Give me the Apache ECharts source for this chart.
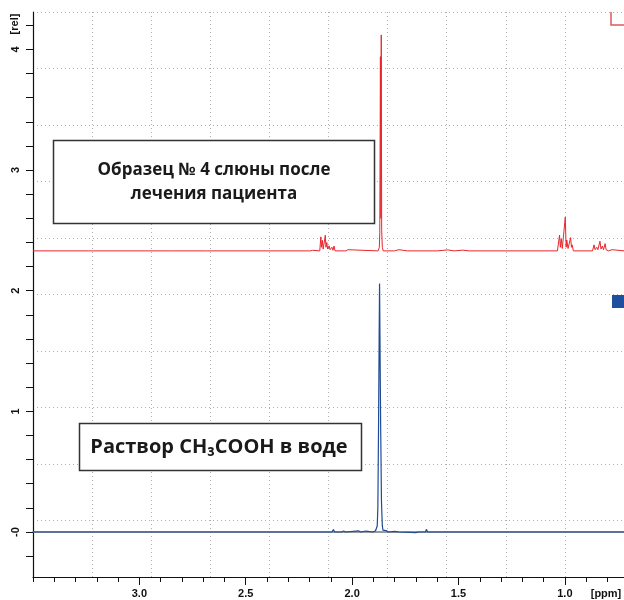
<!DOCTYPE html>
<html><head><meta charset="utf-8">
<script src="https://cdn.jsdelivr.net/npm/echarts@6/dist/echarts.min.js"></script>
<style>html,body{margin:0;padding:0;background:#fff}#c{width:624px;height:600px}</style>
</head><body><div id="c"></div>
<script>
// ppm axis labels and ticks
const xLabelValues = [3.0, 2.5, 2.0, 1.5, 1.0];
const xTickValues = [3.5,3.4,3.3,3.2,3.1,3.0,2.9,2.8,2.7,2.6,2.5,2.4,2.3,2.2,2.1,2.0,1.9,1.8,1.7,1.6,1.5,1.4,1.3,1.2,1.1,1.0,0.9,0.8];
// intensity axis labels and ticks
const yLabelValues = [0, 1, 2, 3, 4];
const yTickValues = [-0.2,0,0.2,0.4,0.6,0.8,1,1.2,1.4,1.6,1.8,2,2.2,2.4,2.6,2.8,3,3.2,3.4,3.6,3.8,4,4.2];

// Saliva sample spectrum (offset), [ppm, rel]
const salivaSpectrum = [
  [3.50,2.33],[3.24,2.33],[3.232,2.345],[3.224,2.33],
  [2.86,2.33],[2.852,2.338],[2.844,2.33],
  [2.70,2.33],[2.692,2.337],[2.684,2.33],
  [2.196,2.33],[2.190,2.345],[2.186,2.335],[2.183,2.348],[2.178,2.33],
  [2.152,2.33],[2.147,2.446],[2.144,2.36],[2.140,2.418],[2.136,2.345],[2.130,2.36],[2.126,2.46],[2.123,2.36],[2.119,2.40],[2.115,2.345],[2.111,2.35],[2.108,2.372],[2.104,2.34],[2.095,2.36],[2.090,2.335],[2.085,2.37],[2.080,2.33],
  [2.03,2.33],[2.019,2.34],[2.012,2.33],[1.995,2.338],[1.99,2.33],
  [1.878,2.33],[1.872,2.36],[1.870,2.48],[1.867,3.94],[1.865,2.6],[1.863,4.12],[1.861,2.5],[1.858,2.36],[1.854,2.33],
  [1.80,2.33],[1.78,2.34],[1.76,2.335],[1.74,2.33],
  [1.60,2.33],[1.55,2.338],[1.52,2.33],[1.48,2.336],[1.45,2.33],
  [1.035,2.33],[1.025,2.46],[1.021,2.36],[1.017,2.43],[1.012,2.35],[1.005,2.36],[0.998,2.61],[0.994,2.36],[0.991,2.42],[0.985,2.35],[0.978,2.36],[0.973,2.44],[0.969,2.36],[0.966,2.38],[0.960,2.33],
  [0.87,2.33],[0.863,2.38],[0.858,2.34],[0.850,2.36],[0.845,2.34],[0.835,2.41],[0.830,2.345],[0.824,2.37],[0.818,2.34],[0.811,2.39],[0.806,2.34],[0.800,2.35],[0.795,2.33],[0.778,2.34],[0.772,2.33],
  [0.72,2.33]
];

// Acetic acid in water spectrum, [ppm, rel]
const acidSpectrum = [
  [3.50,0],[2.095,0],[2.088,0.02],[2.082,0],
  [2.05,0],[2.04,0.008],[2.03,0],
  [1.97,0.01],[1.96,0],[1.935,0.008],[1.93,0],
  [1.902,0],[1.89,0.01],[1.882,0.05],[1.879,0.2],[1.876,0.82],[1.873,1.6],[1.871,2.06],[1.869,1.6],[1.866,0.91],[1.862,0.25],[1.858,0.05],[1.855,0.016],[1.85,0.01],[1.84,0.012],[1.83,0],
  [1.80,0.005],[1.78,0],
  [1.70,-0.005],[1.69,0],
  [1.655,0],[1.651,0.022],[1.645,0],
  [0.72,0]
];

const boxText1 = 'Образец № 4 слюны после\nлечения пациента';
const boxText2 = 'Раствор CH₃COOH в воде';

const chart = echarts.init(document.getElementById('c'), null, {renderer:'canvas'});
const labelFont = {fontFamily:'Liberation Sans', fontWeight:'bold', fontSize:11, color:'#111'};
const dotted = {show:true, lineStyle:{color:'#b0b0b0', type:[1,3], width:1}};

chart.setOption({
  animation:false,
  backgroundColor:'#fff',
  grid:{left:33, right:0, top:12, bottom:23},
  xAxis:[
    {type:'value', min:0.722, max:3.5, inverse:true, position:'bottom',
     axisLine:{show:true, onZero:false, lineStyle:{color:'#111', width:1.2}},
     axisTick:{show:true, length:8, customValues:xLabelValues, lineStyle:{color:'#111'}},
     axisLabel:Object.assign({customValues:xLabelValues, margin:11, formatter:v=>v.toFixed(1)}, labelFont),
     splitLine:{show:false}},
    {type:'value', min:0, max:10, interval:1, position:'top',
     axisLine:{show:true, lineStyle:{color:'#7a7a7a', width:1.5}},
     axisTick:{show:false}, axisLabel:{show:false}, splitLine:dotted},
    {type:'value', min:0.722, max:3.5, inverse:true, position:'bottom',
     axisLine:{show:false, onZero:false},
     axisTick:{show:true, length:5, customValues:xTickValues, lineStyle:{color:'#111'}},
     axisLabel:{show:false}, splitLine:{show:false}}
  ],
  yAxis:[
    {type:'value', min:-0.373, max:4.31, position:'left',
     axisLine:{show:true, onZero:false, lineStyle:{color:'#111', width:1.2}},
     axisTick:{show:true, length:7, customValues:yTickValues, lineStyle:{color:'#111'}},
     axisLabel:Object.assign({customValues:yLabelValues, rotate:90, margin:12, formatter:v=>(v===0?'-0':String(v))}, labelFont),
     splitLine:{show:false}},
    {type:'value', min:0, max:10, interval:1, position:'right',
     axisLine:{show:false}, axisTick:{show:false}, axisLabel:{show:false}, splitLine:dotted}
  ],
  series:[
    {type:'line', name:'saliva', xAxisIndex:0, yAxisIndex:0, data:salivaSpectrum, showSymbol:false,
     lineStyle:{color:'#e8262d', width:1}, z:3, silent:true},
    {type:'line', name:'acid', xAxisIndex:0, yAxisIndex:0, data:acidSpectrum, showSymbol:false,
     lineStyle:{color:'#1f4a96', width:1.2}, z:3, silent:true}
  ],
  graphic:[
    {type:'rect', shape:{x:53.5, y:140.5, width:321, height:83}, style:{fill:'#fff', stroke:'#333', lineWidth:1.5}, z:10},
    {type:'text', x:214, y:182, style:{text:boxText1, fontFamily:'Open Sans', fontWeight:'bold', fontSize:17, lineHeight:24, fill:'#1a1a1a', align:'center', verticalAlign:'middle'}, z:11},
    {type:'rect', shape:{x:79.5, y:423.5, width:282, height:47}, style:{fill:'#fff', stroke:'#333', lineWidth:1.5}, z:10},
    {type:'text', x:219, y:447, style:{text:boxText2, fontFamily:'Open Sans', fontWeight:'bold', fontSize:20, fill:'#1a1a1a', align:'center', verticalAlign:'middle'}, z:11},
    {type:'text', x:15, y:24, rotation:Math.PI/2, style:{text:'[rel]', fontFamily:'Liberation Sans', fontWeight:'bold', fontSize:11, fill:'#111', align:'center', verticalAlign:'middle'}, z:11},
    {type:'text', x:606, y:594, style:{text:'[ppm]', fontFamily:'Liberation Sans', fontWeight:'bold', fontSize:11, fill:'#111', align:'center', verticalAlign:'middle'}, z:11},
    {type:'polyline', shape:{points:[[611,12],[611,25],[624,25]]}, style:{stroke:'#e05a5a', lineWidth:1.5, fill:null}, z:11},
    {type:'rect', shape:{x:612, y:295, width:12, height:13}, style:{fill:'#1e4f9e'}, z:11}
  ]
});
</script></body></html>
